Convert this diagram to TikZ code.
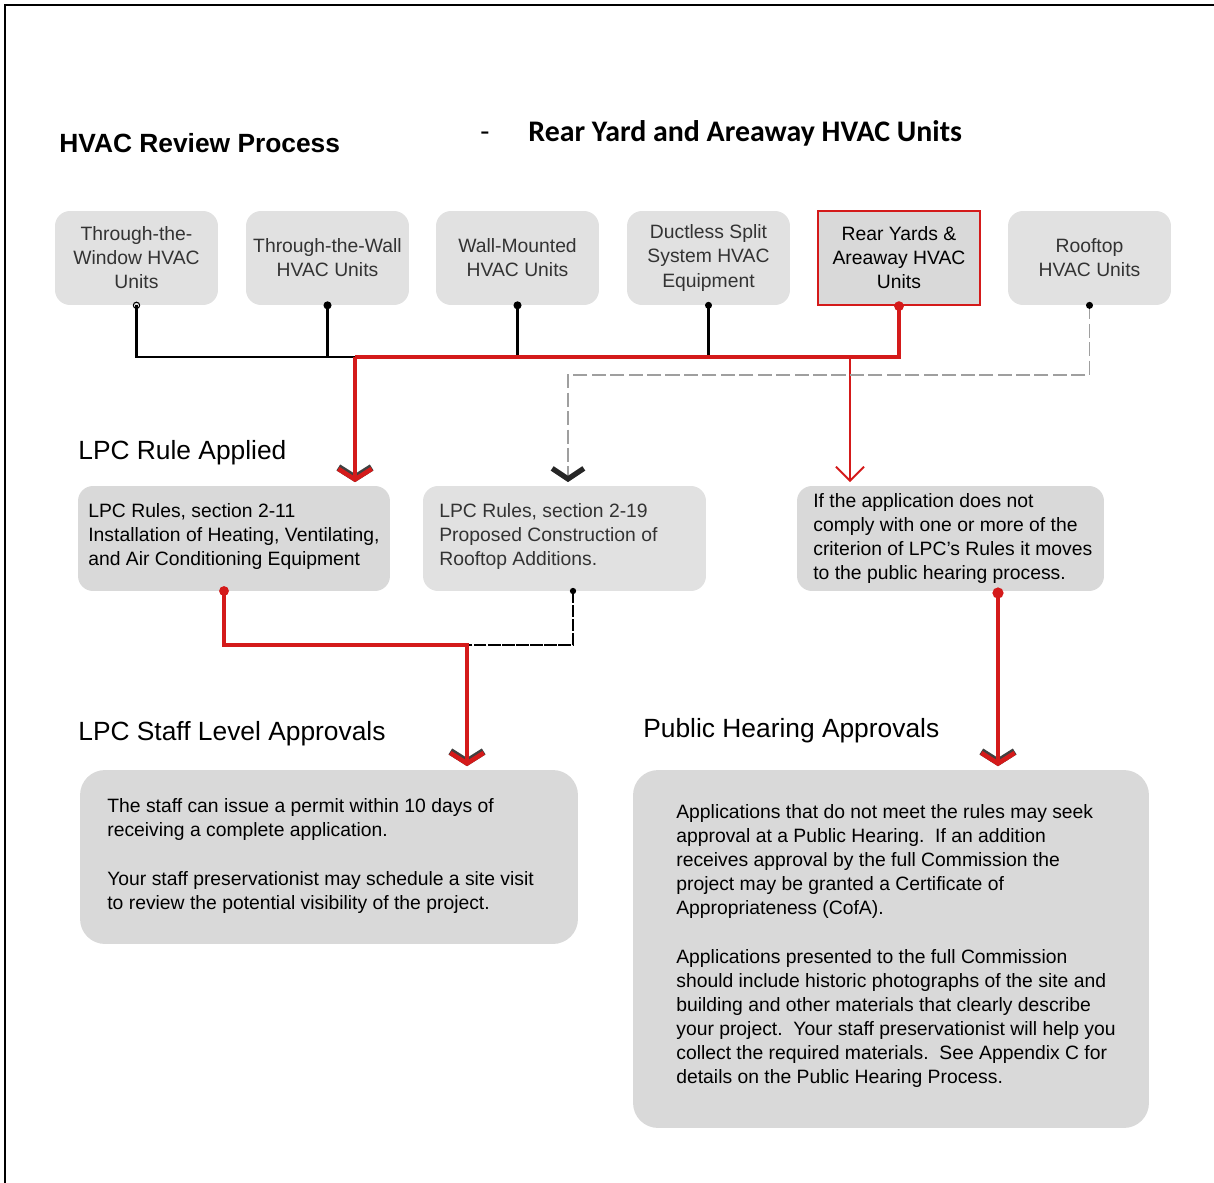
\documentclass[tikz,border=0pt]{standalone}
\usepackage{fontspec}
\setmainfont{Liberation Sans}
\newfontfamily\calibrifont{Carlito}
\usetikzlibrary{arrows.meta}
\definecolor{lpcred}{HTML}{D41A1A}
\definecolor{boxgray}{HTML}{D9D9D9}
\definecolor{speckgray}{HTML}{E1E1E1}
\tikzstyle{unitbox}=[rounded corners=0.3cm, minimum width=3.26cm, minimum height=1.88cm, align=center, inner sep=0pt, font=\fontsize{11}{13.7}\selectfont]
\tikzstyle{speck}=[fill=speckgray, text=black!80]
\tikzstyle{rulebox}=[rounded corners=0.3cm, fill=boxgray, minimum height=2.1cm, inner sep=0pt]
\tikzstyle{bigbox}=[rulebox, rounded corners=0.5cm]
\tikzstyle{bodytext}=[anchor=west, align=left, inner sep=0pt, font=\fontsize{11}{13.7}\selectfont]
\tikzstyle{heading}=[anchor=base west, inner sep=0pt, font=\fontsize{15}{18}\selectfont]
\tikzstyle{blackbus}=[line width=1.7pt]
\tikzstyle{redbus}=[lpcred, line width=1.9pt]
\tikzstyle{redarrow}=[lpcred, line width=1.8pt, shorten >=2pt, -{Straight Barb[length=6pt,width=19pt,line width=4pt,color=black!75]}, postaction={draw=lpcred, -{Straight Barb[length=6pt,width=19pt,line width=2.6pt,color=lpcred]}}]
\tikzstyle{thinarrow}=[lpcred, line width=1.1pt, shorten >=2pt, -{Straight Barb[length=8pt,width=16pt,line width=1.1pt]}]
\tikzstyle{roofdash}=[gray!75, line width=0.7pt, dash pattern=on 8pt off 2.5pt, shorten >=2pt, -{Straight Barb[length=6pt,width=18pt,line width=3pt,color=black!85]}]
\tikzstyle{roughline}=[line width=1.4pt, dash pattern=on 7pt off 1pt]

\begin{document}
\begin{tikzpicture}[x=0.02cm, y=-0.02cm]
	\useasboundingbox (0,0) rectangle (1214,1183);
	\draw[line width=1.2pt] (5,1183) -- (5,5) -- (1214,5);

	\node[heading, font=\bfseries\fontsize{15}{18}\selectfont] (title) at (59,152) {HVAC Review Process};
	\node[anchor=base, inner sep=0pt, font=\calibrifont\fontsize{17}{20}\selectfont] (dash) at (485,141) {-};
	\node[anchor=base west, inner sep=0pt, font=\calibrifont\bfseries\fontsize{17}{20}\selectfont] (subtitle) at (528,141) {Rear Yard and Areaway HVAC Units};

	\node[unitbox, speck] (window) at (136.5,258) {Through-the-\\Window HVAC\\Units};
	\node[unitbox, speck] (wall) at (327.5,258) {Through-the-Wall\\HVAC Units};
	\node[unitbox, speck] (mounted) at (517.5,258) {Wall-Mounted\\HVAC Units};
	\node[unitbox, speck] (ductless) at (708.5,258) {Ductless Split\\System HVAC\\Equipment};
	\node[unitbox, fill=boxgray, draw=lpcred, line width=1.3pt, rounded corners=0pt, minimum width=3.24cm] (rear) at (899,258) {Rear Yards \&\\Areaway HVAC\\Units};
	\node[unitbox, speck] (rooftop) at (1089.5,258) {Rooftop\\HVAC Units};

	\node[rulebox, minimum width=6.24cm] (install) at (234,538.5) {};
	\node[rulebox, speck, minimum width=5.66cm] (addition) at (564.5,538.5) {};
	\node[rulebox, minimum width=6.14cm] (notcomply) at (950.5,538.5) {};
	\node[bodytext] (installtext) at (88,536.5) {LPC Rules, section 2-11\\Installation of Heating, Ventilating,\\and Air Conditioning Equipment};
	\node[bodytext, text=black!80] (additiontext) at (439,536.5) {LPC Rules, section 2-19\\Proposed Construction of\\Rooftop Additions.};
	\node[bodytext] (notcomplytext) at (813,538.5) {If the application does not\\comply with one or more of the\\criterion of LPC's Rules it moves\\to the public hearing process.};

	\node[bigbox, minimum width=9.96cm, minimum height=3.48cm] (staff) at (329,857) {};
	\node[bigbox, minimum width=10.32cm, minimum height=7.16cm] (hearing) at (891,949) {};
	\node[bodytext] (stafftext) at (107,856) {The staff can issue a permit within 10 days of\\receiving a complete application.\\[13.7pt]Your staff preservationist may schedule a site visit\\to review the potential visibility of the project.};
	\node[bodytext] (hearingtext) at (676,946) {Applications that do not meet the rules may seek\\approval at a Public Hearing.\ \ If an addition\\receives approval by the full Commission the\\project may be granted a Certificate of\\Appropriateness (CofA).\\[13.7pt]Applications presented to the full Commission\\should include historic photographs of the site and\\building and other materials that clearly describe\\your project.\ \ Your staff preservationist will help you\\collect the required materials.\ \ See Appendix C for\\details on the Public Hearing Process.};

	\node[heading] (rulehead) at (78,459) {LPC Rule Applied};
	\node[heading] (staffhead) at (78,740) {LPC Staff Level Approvals};
	\node[heading] (hearinghead) at (643,737) {Public Hearing Approvals};

	\coordinate (busturn) at (355,357);
	\coordinate (split) at (850,357);
	\coordinate (roofturn) at (568,375);
	\coordinate (installdot) at (224,591);
	\coordinate (additiondot) at (573,591);
	\coordinate (complydot) at (998,593);
	\coordinate (join) at (467,645);

	\draw[blackbus] (window.south) |- (busturn);
	\draw[blackbus] (wall.south) -- (wall.south |- busturn);
	\draw[blackbus] (mounted.south) -- (mounted.south |- busturn);
	\draw[blackbus] (ductless.south) -- (ductless.south |- busturn);
	\draw[redbus] (rear.south) |- (busturn);
	\draw[redarrow] (busturn) -- (busturn |- install.north);
	\draw[thinarrow] (split) -- (split |- notcomply.north);
	\draw[roofdash] (rooftop.south) |- (roofturn) -- (roofturn |- addition.north);

	\draw[roughline] (additiondot) |- (join);
	\draw[redarrow] (installdot) |- (join) -- (join |- staff.north);
	\draw[redarrow] (complydot) -- (complydot |- hearing.north);

	\draw[line width=0.6pt] (window.south) circle [radius=1.8pt];
	\fill[black] (wall.south) circle [radius=2.3pt];
	\fill[black] (mounted.south) circle [radius=2.3pt];
	\fill[black] (ductless.south) circle [radius=2pt];
	\fill[lpcred] (rear.south) circle [radius=2.8pt];
	\fill[black] (rooftop.south) circle [radius=2pt];
	\fill[lpcred] (installdot) circle [radius=2.8pt];
	\fill[black] (additiondot) circle [radius=1.8pt];
	\fill[lpcred] (complydot) circle [radius=3.2pt];
\end{tikzpicture}
\end{document}
